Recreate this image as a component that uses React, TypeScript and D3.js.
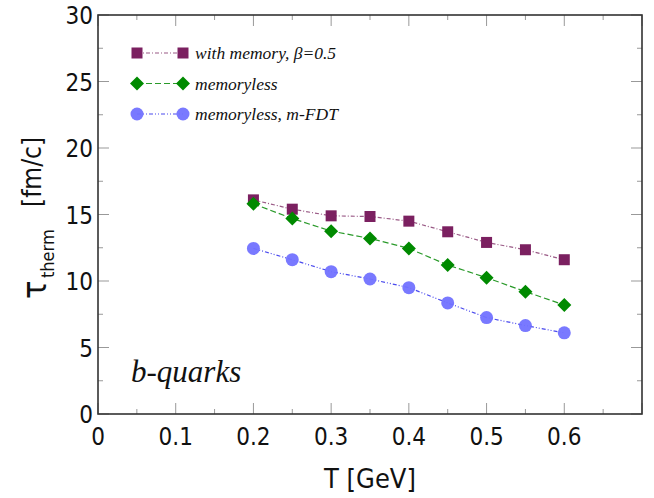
import * as d3 from "d3";

// temperature points (GeV)
const temps = [0.2, 0.25, 0.3, 0.35, 0.4, 0.45, 0.5, 0.55, 0.6];
// thermalization time, fm/c
const withMemory = [16.1, 15.4, 14.9, 14.85, 14.5, 13.7, 12.9, 12.35, 11.6];
const memoryless = [15.8, 14.7, 13.75, 13.2, 12.45, 11.2, 10.25, 9.2, 8.2];
const memorylessFDT = [12.45, 11.6, 10.7, 10.15, 9.5, 8.35, 7.25, 6.65, 6.1];

const xTicks = [0, 0.1, 0.2, 0.3, 0.4, 0.5, 0.6];
const yTicks = [0, 5, 10, 15, 20, 25, 30];

const W = 654;
const H = 498;
const left = 98, right = 642, top = 15, bottom = 414;

const series = [
  { name: "with memory, β=0.5", values: withMemory, color: "#7b2060", line: "#9a5a86", dash: "4,2,1,2", shape: "square" },
  { name: "memoryless", values: memoryless, color: "#008a00", line: "#2a9a2a", dash: "6,3", shape: "diamond" },
  { name: "memoryless, m-FDT", values: memorylessFDT, color: "#7272ff", line: "#4a4aee", dash: "4,2,1,2,1,2", shape: "circle" },
];

function Marker({ shape, x, y, color }: { shape: string; x: number; y: number; color: string }) {
  if (shape === "square") return <rect x={x - 5.5} y={y - 5.5} width={11} height={11} fill={color} />;
  if (shape === "diamond") return <path d={`M${x},${y - 7}L${x + 7},${y}L${x},${y + 7}L${x - 7},${y}Z`} fill={color} />;
  return <circle cx={x} cy={y} r={6.5} fill={color} fillOpacity={0.95} />;
}

export default function App() {
  const x = d3.scaleLinear().domain([0, 0.7]).range([left, right]);
  const y = d3.scaleLinear().domain([0, 30]).range([bottom, top]);
  const xMinor = d3.range(0, 0.7001, 0.05);
  const yMinor = d3.range(0, 30.001, 2.5);
  const line = d3.line<number>().x((_, i) => x(temps[i])).y((d) => y(d));
  const tickFont = "DejaVu Sans Condensed, DejaVu Sans, sans-serif";
  const serif = "Liberation Serif, Times New Roman, serif";
  const ax = "#333";

  return (
    <svg width={W} height={H} style={{ position: "absolute", left: 0, top: 0, background: "#fff" }}>
      {xMinor.map((t, i) => {
        const L = i % 2 === 0 ? 11 : 5;
        return (
          <g key={"xt" + i} stroke="#999" strokeWidth={1}>
            <line x1={x(t)} x2={x(t)} y1={bottom} y2={bottom - L} />
            <line x1={x(t)} x2={x(t)} y1={top} y2={top + L} />
          </g>
        );
      })}
      {yMinor.map((t, i) => {
        const L = i % 2 === 0 ? 11 : 5;
        return (
          <g key={"yt" + i} stroke="#999" strokeWidth={1}>
            <line x1={left} x2={left + L} y1={y(t)} y2={y(t)} />
            <line x1={right} x2={right - L} y1={y(t)} y2={y(t)} />
          </g>
        );
      })}
      <rect x={left} y={top} width={right - left} height={bottom - top} fill="none" stroke={ax} strokeWidth={1.6} />
      {xTicks.map((t) => (
        <text key={"xl" + t} x={x(t)} y={445} textAnchor="middle" fontFamily={tickFont} fontSize={24} fill="#111">
          {t === 0 ? "0" : d3.format(".1f")(t)}
        </text>
      ))}
      {yTicks.map((t) => (
        <text key={"yl" + t} x={93} y={y(t) + 1} textAnchor="end" dominantBaseline="central" fontFamily={tickFont} fontSize={24} fill="#111">
          {t}
        </text>
      ))}
      <text x={370} y={488} textAnchor="middle" fontFamily={tickFont} fontSize={27} fill="#111">
        T [GeV]
      </text>
      <text transform="translate(46,299) rotate(-90)" fontFamily={tickFont} fontSize={34} fill="#111">
        τ
      </text>
      <text transform="translate(54,278) rotate(-90)" fontFamily={tickFont} fontSize={18} fill="#111">
        therm
      </text>
      <text transform="translate(41,207) rotate(-90)" fontFamily={tickFont} fontSize={26} fill="#111">
        [fm/c]
      </text>
      {series.map((s) => (
        <g key={s.name}>
          <path d={line(s.values) || ""} fill="none" stroke={s.line} strokeWidth={1.2} strokeDasharray={s.dash} />
          {s.values.map((v, i) => (
            <Marker key={i} shape={s.shape} x={x(temps[i])} y={y(v)} color={s.color} />
          ))}
        </g>
      ))}
      {series.map((s, i) => {
        const ly = 53 + i * 30.5;
        return (
          <g key={"lg" + i}>
            <line x1={137} x2={183} y1={ly} y2={ly} stroke={s.line} strokeWidth={1.2} strokeDasharray={s.dash} />
            <Marker shape={s.shape} x={137} y={ly} color={s.color} />
            <Marker shape={s.shape} x={183} y={ly} color={s.color} />
            <text x={195} y={ly + 6} fontFamily={serif} fontStyle="italic" fontSize={17.5} fill="#111">
              {s.name}
            </text>
          </g>
        );
      })}
      <text x={131} y={382} fontFamily={serif} fontStyle="italic" fontSize={31} fill="#111">
        b-quarks
      </text>
    </svg>
  );
}
